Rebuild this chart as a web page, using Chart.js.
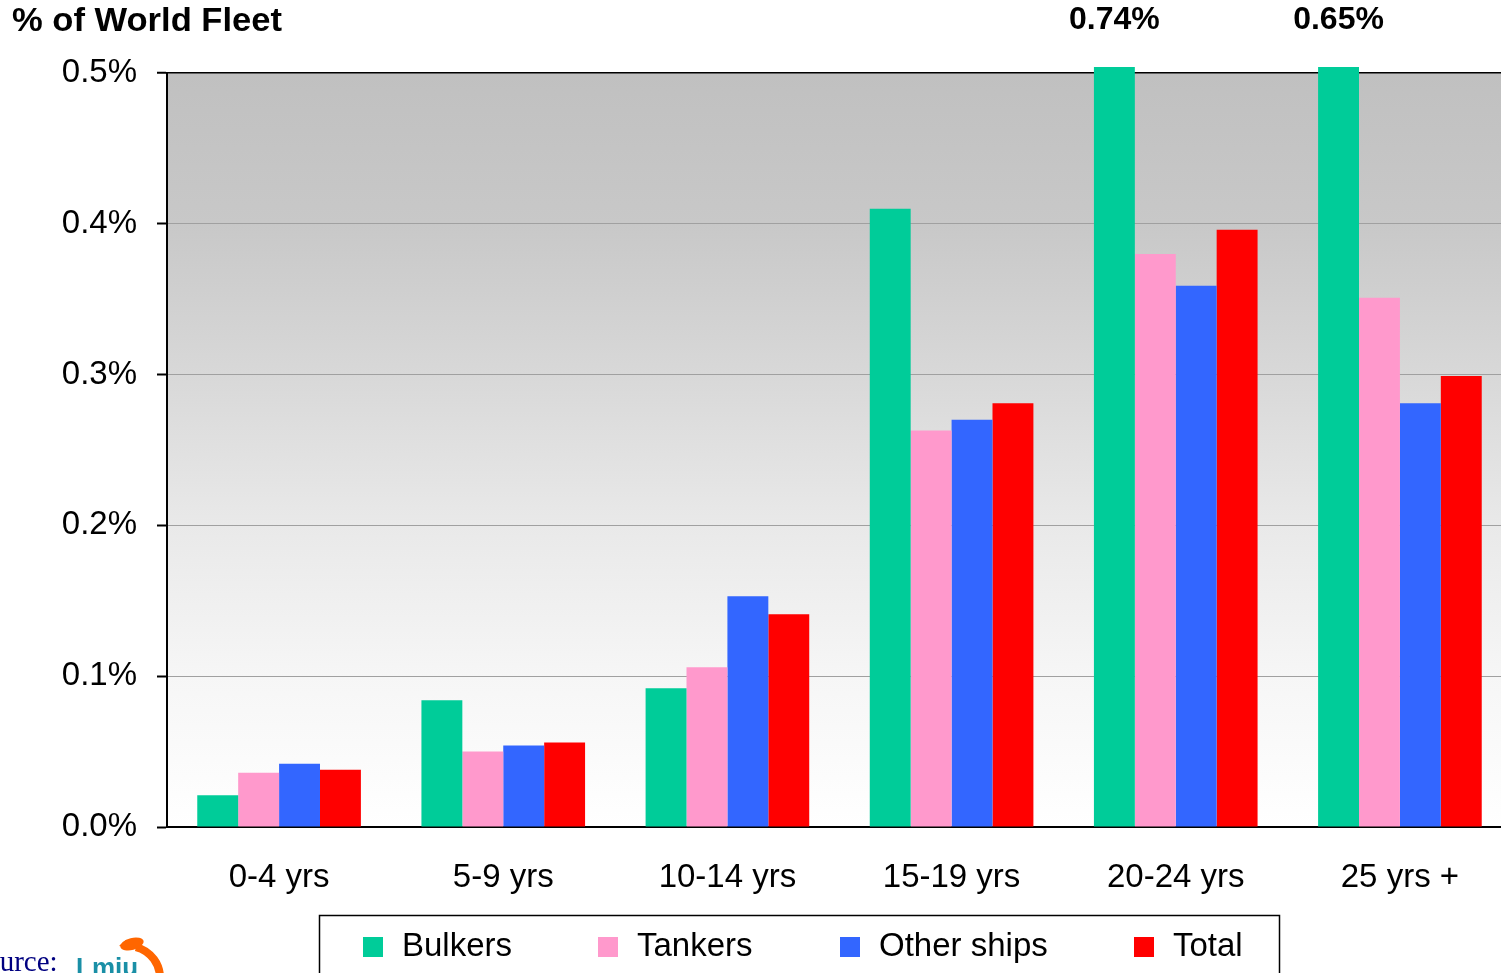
<!DOCTYPE html>
<html>
<head>
<meta charset="utf-8">
<script src="https://cdn.jsdelivr.net/npm/chart.js@4/dist/chart.umd.min.js"></script>
<style>
  html, body { margin: 0; padding: 0; background: #ffffff; overflow: hidden; }
  #wrap { position: relative; width: 1520px; height: 973px; }
</style>
</head>
<body>
<div id="wrap"><canvas id="fleet" width="1520" height="973"></canvas></div>
<script>
// Age bands of the fleet
const categories = ['0-4 yrs', '5-9 yrs', '10-14 yrs', '15-19 yrs', '20-24 yrs', '25 yrs +'];

// Share of world fleet (%) per age band
const bulkers    = [0.021, 0.084, 0.092, 0.410, 0.74, 0.65];
const tankers    = [0.036, 0.050, 0.106, 0.263, 0.380, 0.351];
const otherShips = [0.042, 0.054, 0.153, 0.270, 0.359, 0.281];
const total      = [0.038, 0.056, 0.141, 0.281, 0.396, 0.299];

const seriesNames  = ['Bulkers', 'Tankers', 'Other ships', 'Total'];
const seriesColors = ['#00CC99', '#FF99CC', '#3366FF', '#FF0000'];

const Y_MAX = 0.5;
const FONT = 'Arial, "Liberation Sans", sans-serif';

// Grey-to-white wash behind the plot
const plotBackground = {
  id: 'plotBackground',
  beforeDraw(chart) {
    const { ctx, chartArea: a } = chart;
    const g = ctx.createLinearGradient(0, a.top, 0, a.bottom);
    g.addColorStop(0, '#c0c0c0');
    g.addColorStop(0.2, '#c8c8c8');
    g.addColorStop(0.4, '#d8d8d8');
    g.addColorStop(0.6, '#e9e9e9');
    g.addColorStop(0.8, '#f6f6f6');
    g.addColorStop(1, '#ffffff');
    ctx.save();
    ctx.fillStyle = g;
    ctx.fillRect(a.left, a.top, a.right - a.left, a.bottom - a.top);
    ctx.restore();
  }
};

// Values of bars that run past the axis maximum, printed above the plot
const overflowLabels = {
  id: 'overflowLabels',
  afterDatasetsDraw(chart) {
    const { ctx } = chart;
    const max = chart.scales.y.max;
    ctx.save();
    ctx.font = 'bold 32px ' + FONT;
    ctx.fillStyle = '#000';
    ctx.textAlign = 'center';
    ctx.textBaseline = 'middle';
    chart.data.datasets.forEach((ds, di) => {
      const meta = chart.getDatasetMeta(di);
      ds.data.forEach((v, i) => {
        if (v > max) {
          ctx.fillText(v.toFixed(2) + '%', meta.data[i].x, 20);
        }
      });
    });
    ctx.restore();
  }
};

// Boxed legend under the axis, plus source line
const boxedLegend = {
  id: 'boxedLegend',
  afterDraw(chart) {
    const { ctx } = chart;
    ctx.save();
    ctx.strokeStyle = '#000';
    ctx.lineWidth = 1.5;
    ctx.strokeRect(319.5, 915.5, 960, 120);

    const markX = [363, 598, 840, 1134];
    ctx.font = '33px ' + FONT;
    ctx.textBaseline = 'middle';
    ctx.textAlign = 'left';
    chart.data.datasets.forEach((ds, i) => {
      ctx.fillStyle = ds.backgroundColor;
      ctx.fillRect(markX[i], 937, 20, 20);
      ctx.fillStyle = '#000';
      ctx.fillText(ds.label, markX[i] + 39, 947);
    });

    // Source line
    ctx.font = '29px "Liberation Serif", "Times New Roman", serif';
    ctx.fillStyle = '#000080';
    ctx.textBaseline = 'alphabetic';
    ctx.fillText('Source:', -31, 971);
    ctx.font = 'bold 26px ' + FONT;
    ctx.fillStyle = '#1a8fa6';
    ctx.fillText('Lmiu', 76, 976);

    // Dolphin mark
    ctx.strokeStyle = '#ff6600';
    ctx.fillStyle = '#ff6600';
    ctx.lineWidth = 8;
    ctx.beginPath();
    ctx.arc(128, 978, 32, -Math.PI * 0.42, Math.PI * 0.02);
    ctx.stroke();
    ctx.beginPath();
    ctx.ellipse(132, 944, 12, 6, -0.25, 0, Math.PI * 2);
    ctx.fill();
    ctx.beginPath();
    ctx.moveTo(119, 946);
    ctx.lineTo(126, 940);
    ctx.lineTo(127, 947);
    ctx.closePath();
    ctx.fill();
    ctx.restore();
  }
};

// Page title
const titleText = {
  id: 'titleText',
  afterDraw(chart) {
    const { ctx } = chart;
    ctx.save();
    ctx.font = 'bold 33px ' + FONT;
    ctx.fillStyle = '#000';
    ctx.textAlign = 'left';
    ctx.textBaseline = 'middle';
    const txt = '% of World Fleet';
    const w = ctx.measureText(txt).width;
    // stretch to the title's set width
    ctx.translate(12, 22);
    ctx.scale(270 / w, 1);
    ctx.fillText(txt, 0, 0);
    ctx.restore();
  }
};

const datasets = [bulkers, tankers, otherShips, total].map((data, i) => ({
  label: seriesNames[i],
  data: data,
  backgroundColor: seriesColors[i],
  borderWidth: 0,
  categoryPercentage: 0.73,
  barPercentage: 1.0,
  clip: { left: 0, top: 6, right: 0, bottom: 0 }
}));

new Chart(document.getElementById('fleet'), {
  type: 'bar',
  data: { labels: categories, datasets: datasets },
  plugins: [plotBackground, overflowLabels, boxedLegend, titleText],
  options: {
    responsive: false,
    animation: false,
    devicePixelRatio: 1,
    layout: { padding: { left: 0, top: 73, right: 8, bottom: 0 } },
    plugins: {
      legend: { display: false },
      tooltip: { enabled: false },
      title: { display: false }
    },
    scales: {
      x: {
        grid: { display: false, drawTicks: false },
        border: { display: true, color: '#000', width: 2 },
        ticks: {
          color: '#000',
          font: { family: FONT, size: 33 },
          padding: 31,
          maxRotation: 0,
          autoSkip: false
        },
        afterFit(scale) { scale.height = 146; }
      },
      y: {
        min: 0,
        max: Y_MAX,
        grid: {
          color: (c) => (c.tick && Math.abs(c.tick.value - Y_MAX) < 1e-9) ? '#000' : '#a0a0a0',
          lineWidth: (c) => (c.tick && Math.abs(c.tick.value - Y_MAX) < 1e-9) ? 1.5 : 1,
          drawTicks: true,
          tickLength: 10,
          tickColor: '#000',
          tickWidth: 2
        },
        border: { display: true, color: '#000', width: 2 },
        ticks: {
          stepSize: 0.1,
          color: '#000',
          padding: 20,
          font: { family: FONT, size: 33 },
          callback: (v) => v.toFixed(1) + '%'
        },
        afterFit(scale) { scale.width = 167; }
      }
    }
  }
});
</script>
</body>
</html>
